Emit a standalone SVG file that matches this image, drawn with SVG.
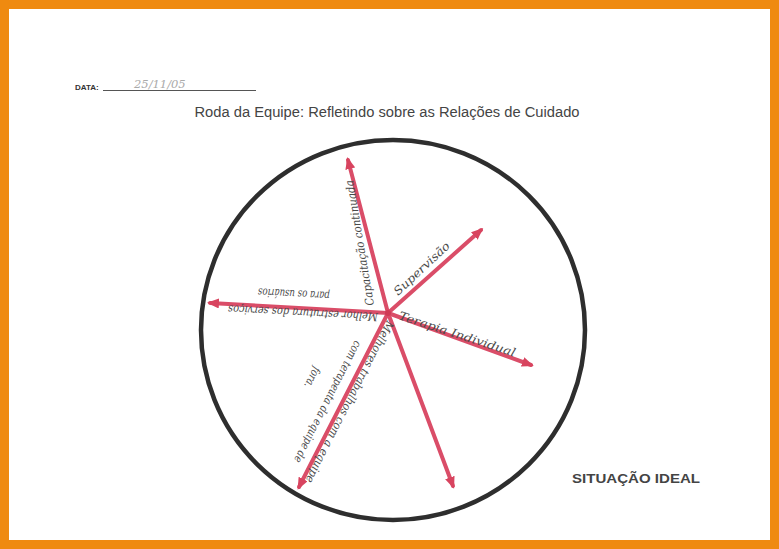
<svg xmlns="http://www.w3.org/2000/svg" width="779" height="549" viewBox="0 0 779 549">
<style>
.hand{font-family:"DejaVu Serif","Liberation Serif",serif;font-style:italic;fill:#4a4a4a;font-size:11.5px}
.arrow{stroke:#DA4D68;stroke-width:4;stroke-linecap:round;fill:none}
</style>
<defs>
<marker id="ah" viewBox="0 0 12 10" refX="9" refY="5" markerWidth="12" markerHeight="10" markerUnits="userSpaceOnUse" orient="auto">
<path d="M0,0 L12,5 L0,10 Z" fill="#D8445F"/>
</marker>
</defs>
<rect x="0" y="0" width="779" height="549" fill="#fff"/>
<rect x="4.5" y="4.5" width="770" height="540" fill="none" stroke="#EF8A10" stroke-width="9"/>

<g id="header">
<text x="75" y="90" font-family="Liberation Sans, Arial, sans-serif" font-weight="bold" font-size="8" fill="#333">DATA:</text>
<line x1="103" y1="90.5" x2="256" y2="90.5" stroke="#555" stroke-width="1"/>
<text x="134" y="88" class="hand" font-size="10" style="fill:#aaa">25/11/05</text>
<text x="387" y="117" text-anchor="middle" font-family="Liberation Sans, Arial, sans-serif" font-size="14" fill="#444" textLength="385" lengthAdjust="spacingAndGlyphs">Roda da Equipe: Refletindo sobre as Relações de Cuidado</text>
</g>

<g id="wheel">
<ellipse cx="393" cy="330" rx="192" ry="190" fill="none" stroke="#2e2e2e" stroke-width="4.5"/>
</g>

<g id="connectors">
<line class="arrow" x1="388" y1="313" x2="348" y2="160" marker-end="url(#ah)"/>
<line class="arrow" x1="388" y1="313" x2="481" y2="230" marker-end="url(#ah)"/>
<line class="arrow" x1="388" y1="313" x2="531" y2="365" marker-end="url(#ah)"/>
<line class="arrow" x1="388" y1="313" x2="210" y2="303" marker-end="url(#ah)"/>
<line class="arrow" x1="388" y1="313" x2="299" y2="487" marker-end="url(#ah)"/>
<line class="arrow" x1="388" y1="313" x2="453" y2="486" marker-end="url(#ah)"/>
<circle cx="388" cy="313" r="3" fill="#D03A55"/>
</g>

<g id="capacitacao">
<text class="hand" transform="translate(374,305) rotate(-99.5)" textLength="127" lengthAdjust="spacingAndGlyphs">Capacitação continuada</text>
</g>
<g id="supervisao">
<text class="hand" transform="translate(398,296) rotate(-43)" textLength="72" lengthAdjust="spacingAndGlyphs">Supervisão</text>
</g>
<g id="terapia">
<text class="hand" transform="translate(398,319) rotate(18)" textLength="122" lengthAdjust="spacingAndGlyphs">Terapia Individual</text>
</g>
<g id="estrutura">
<text class="hand" transform="translate(378,313) rotate(183)" textLength="150" lengthAdjust="spacingAndGlyphs">Melhor estrutura dos serviços</text>
<text class="hand" transform="translate(330,292) rotate(183)" textLength="72" lengthAdjust="spacingAndGlyphs">para os usuários</text>
</g>
<g id="trabalhos">
<text class="hand" transform="translate(387,320) rotate(117)" textLength="180" lengthAdjust="spacingAndGlyphs">Melhores trabalhos com a equipe</text>
<text class="hand" transform="translate(355,340) rotate(117)" textLength="135" lengthAdjust="spacingAndGlyphs">com terapeuta da equipe de</text>
<text class="hand" transform="translate(314,366) rotate(117)" textLength="22" lengthAdjust="spacingAndGlyphs">fora.</text>
</g>

<g id="situacao">
<text x="572" y="483" font-family="Liberation Sans, Arial, sans-serif" font-weight="bold" font-size="13" fill="#444" textLength="128" lengthAdjust="spacingAndGlyphs">SITUAÇÃO IDEAL</text>
</g>
</svg>
